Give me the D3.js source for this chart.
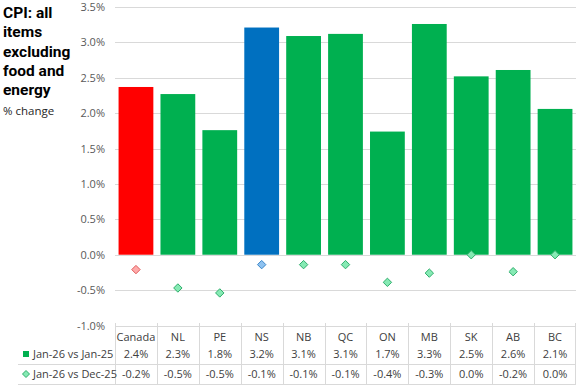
<!DOCTYPE html>
<html>
<head>
<meta charset="utf-8">
<script src="https://d3js.org/d3.v7.min.js"></script>
<style>
  body { margin: 0; background: #fff; }
  svg { font-family: "Open Sans", sans-serif; display: block; }
  .grid line { stroke: #d9d9d9; stroke-width: 1; }
  .ylab { font-size: 11px; fill: #595959; }
  .cell { font-size: 11px; fill: #404040; }
  .tbl line { stroke: #d9d9d9; stroke-width: 1; }
</style>
</head>
<body>
<div id="chart"></div>
<script>
// data
const regions = ["Canada", "NL", "PE", "NS", "NB", "QC", "ON", "MB", "SK", "AB", "BC"];
const yearly  = [2.37, 2.27, 1.76, 3.21, 3.09, 3.12, 1.74, 3.26, 2.52, 2.61, 2.06];
const monthly = [-0.21, -0.47, -0.54, -0.14, -0.14, -0.14, -0.39, -0.26, 0.0, -0.24, 0.0];
const seriesNames = ["Jan-26 vs Jan-25", "Jan-26 vs Dec-25"];
const yTicks = [-1.0, -0.5, 0.0, 0.5, 1.0, 1.5, 2.0, 2.5, 3.0, 3.5];
const titleLines = ["CPI: all", "items", "excluding", "food and", "energy"];

const w = 577, h = 385;
const pLeft = 115, pRight = 576, pTop = 7, pBottom = 325.5;

const svg = d3.select("#chart").append("svg")
    .attr("width", w).attr("height", h);

const x = d3.scaleBand().domain(regions).range([pLeft, pRight])
    .paddingInner(0.17).paddingOuter(0.085);
const col = d3.scaleBand().domain(regions).range([pLeft, pRight]);
const y = d3.scaleLinear().domain([-1, 3.5]).range([pBottom, pTop]);

const pct = v => (Math.abs(v) < 1e-9 ? 0 : v).toFixed(1) + "%";

function barColor(r) { return r == "Canada" ? "#ff0000" : r == "NS" ? "#0070c0" : "#00b050"; }
function dFill(r) { return r == "Canada" ? "#ffaaaa" : r == "NS" ? "#8ec2f0" : "#86eab4"; }
function dStroke(r) { return r == "Canada" ? "#e05a5a" : r == "NS" ? "#3a86c8" : "#2fae6c"; }

// gridlines
svg.append("g").attr("class", "grid")
  .selectAll("line").data(yTicks).enter().append("line")
    .attr("x1", pLeft).attr("x2", pRight)
    .attr("y1", d => Math.round(y(d)) + 0.5).attr("y2", d => Math.round(y(d)) + 0.5);

// y labels
svg.append("g").selectAll("text").data(yTicks).enter().append("text")
    .attr("class", "ylab")
    .attr("x", 105).attr("y", d => y(d) + 4)
    .attr("text-anchor", "end")
    .text(d => pct(d));

// bars
svg.append("g").selectAll("rect").data(regions).enter().append("rect")
    .attr("x", d => x(d)).attr("width", x.bandwidth())
    .attr("y", (d, i) => y(yearly[i]))
    .attr("height", (d, i) => y(0) - y(yearly[i]))
    .attr("fill", d => barColor(d));

// diamonds
const ds = 4.2;
svg.append("g").selectAll("path").data(regions).enter().append("path")
    .attr("transform", (d, i) => "translate(" + (x(d) + x.bandwidth() / 2) + "," + y(monthly[i]) + ")")
    .attr("d", "M0," + (-ds) + "L" + ds + ",0L0," + ds + "L" + (-ds) + ",0Z")
    .attr("fill", d => dFill(d)).attr("stroke", d => dStroke(d)).attr("stroke-width", 1);

// title
svg.append("g").selectAll("text").data(titleLines).enter().append("text")
    .attr("x", 3).attr("y", (d, i) => 18 + i * 19.3)
    .attr("font-size", "15.5px").attr("font-weight", "bold").attr("fill", "#000")
    .attr("font-family", "Roboto, sans-serif")
    .text(d => d);
svg.append("text").attr("x", 3).attr("y", 115)
    .attr("font-size", "11.5px").attr("fill", "#262626")
    .text("% change");

// data table
const tbl = svg.append("g").attr("class", "tbl");
const rowY = [337, 354, 374];
col.domain().forEach(d => {
  tbl.append("line").attr("x1", Math.round(col(d)) + 0.5).attr("x2", Math.round(col(d)) + 0.5)
     .attr("y1", 323).attr("y2", 385);
});
tbl.append("line").attr("x1", pRight - 0.5).attr("x2", pRight - 0.5).attr("y1", 323).attr("y2", 385);
tbl.append("line").attr("x1", 18).attr("x2", pRight).attr("y1", 364.5).attr("y2", 364.5);
tbl.append("line").attr("x1", 18).attr("x2", pRight).attr("y1", 384.5).attr("y2", 384.5);

svg.append("g").selectAll("text").data(regions).enter().append("text")
    .attr("class", "cell").attr("text-anchor", "middle")
    .attr("x", d => col(d) + col.bandwidth() / 2).attr("y", rowY[0] + 4)
    .text(d => d);
[yearly, monthly].forEach((vals, r) => {
  svg.append("g").selectAll("text").data(vals).enter().append("text")
    .attr("class", "cell").attr("text-anchor", "middle")
    .attr("x", (d, i) => col(regions[i]) + col.bandwidth() / 2).attr("y", rowY[r + 1] + 4)
    .text(d => pct(d));
  svg.append("text").attr("class", "cell")
    .attr("x", 33).attr("y", rowY[r + 1] + 4).text(seriesNames[r]);
});
// legend keys
svg.append("rect").attr("x", 23).attr("y", rowY[1] - 3).attr("width", 6).attr("height", 6)
    .attr("fill", "#00b050");
svg.append("path")
    .attr("transform", "translate(26," + rowY[2] + ")")
    .attr("d", "M0,-3.5L3.5,0L0,3.5L-3.5,0Z")
    .attr("fill", "#86eab4").attr("stroke", "#2fae6c");
</script>
</body>
</html>
